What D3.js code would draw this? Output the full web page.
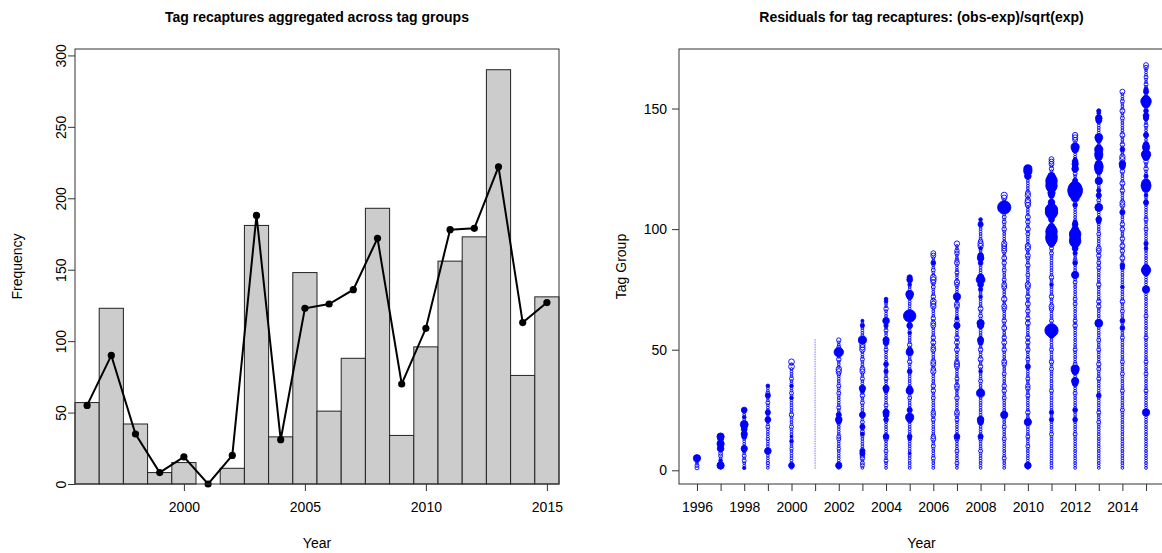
<!DOCTYPE html>
<html><head><meta charset="utf-8">
<script src="https://cdn.jsdelivr.net/npm/d3@7"></script>
<style>
body{margin:0;background:#fff;}
svg{display:block;font-family:"Liberation Sans",Arial,sans-serif;}
</style></head>
<body><svg id="c" width="1162" height="553"></svg>
<script>
// ---------- Left panel data ----------
const years = [1996,1997,1998,1999,2000,2001,2002,2003,2004,2005,2006,2007,2008,2009,2010,2011,2012,2013,2014,2015];
const observed = [57,123,42,8,15,0,11,181,33,148,51,88,193,34,96,156,173,290,76,131];
const expected = [55,90,35,8,19,0,20,188,31,123,126,136,172,70,109,178,179,222,113,127];
const freqTicks = [0,50,100,150,200,250,300];
const yearTicksLeft = [2000,2005,2010,2015];

// ---------- Right panel data ----------
const resYears = years;
const maxTagGroup = [5,14,25,35,45,54,54,62,71,80,90,94,104,114,125,129,139,149,157,168];
const baseResidual = [-0.35,-0.35,-0.35,-0.35,-0.35,-0.05,-0.35,-0.35,-0.35,-0.35,-0.35,-0.35,-0.35,-0.35,-0.35,-0.35,-0.35,-0.35,-0.35,-0.35];
// notable residuals per year: [tag group, residual]
const notable = [
 [[5,2.4],[4,0.6],[2,-0.7],[1,-0.7]],
 [[14,2.4],[13,1.5],[11,2.4],[10,0.8],[9,2.0],[7,-0.7],[6,-0.7],[4,0.6],[2,2.4]],
 [[25,1.5],[22,0.6],[19,2.8],[18,1.5],[17,1.5],[15,1.8],[14,1.2],[9,1.8],[8,0.6],[6,-0.7],[4,-0.7],[1,0.5]],
 [[35,0.6],[32,-0.7],[31,1.2],[28,-0.7],[24,1.2],[21,1.5],[18,-0.7],[13,-0.5],[8,2.0],[3,-0.5]],
 [[45,-1.5],[43,-1.5],[38,-0.7],[35,0.6],[32,-0.7],[30,0.6],[23,-0.9],[18,-0.7],[14,0.4],[12,0.6],[9,-0.5],[2,1.5]],
 [],
 [[54,-0.9],[51,-0.7],[49,4.0],[46,-0.9],[42,-1.3],[41,-1.3],[40,-0.7],[35,-0.7],[32,-0.7],[26,-0.7],[23,1.2],[21,2.0],[20,1.0],[14,-0.7],[13,-0.7],[9,-0.5],[2,1.8]],
 [[62,0.4],[60,0.8],[54,3.0],[52,-1.3],[51,-1.3],[50,-1.3],[46,-0.7],[42,-1.1],[41,-1.1],[38,-0.7],[34,1.8],[33,1.0],[31,-0.9],[28,-0.7],[23,1.6],[20,-0.7],[18,1.2],[16,-0.7],[15,0.8],[8,1.2],[7,1.2],[6,-0.9],[5,-0.9],[3,-0.7],[2,-0.7]],
 [[71,0.6],[70,0.6],[67,-0.9],[62,2.0],[60,0.8],[58,-0.7],[54,1.8],[53,1.5],[50,-0.7],[44,1.0],[41,0.8],[38,-0.7],[34,1.8],[33,1.0],[27,-0.7],[24,1.8],[23,1.5],[21,1.0],[14,1.5],[13,-0.9],[8,-0.7],[4,-0.7]],
 [[80,1.2],[79,1.5],[77,0.6],[73,2.8],[72,1.5],[64,7.0],[60,1.5],[57,0.6],[52,-0.9],[50,1.2],[49,2.4],[45,-0.9],[41,1.0],[34,1.2],[33,2.4],[30,-0.7],[25,1.2],[22,3.0],[21,1.5],[14,1.0],[13,0.6],[7,0.4]],
 [[90,-1.1],[89,-1.1],[86,1.0],[83,-0.7],[80,-1.5],[79,-1.5],[78,-1.1],[76,-0.7],[72,-0.9],[70,-1.5],[69,-1.3],[68,-1.3],[63,-0.9],[61,-1.1],[60,-1.1],[55,-0.9],[53,-1.1],[51,-0.9],[50,-1.1],[45,-1.1],[44,-1.1],[42,-0.9],[41,-1.3],[35,-0.9],[33,-0.9],[30,-0.7],[24,-0.9],[23,-0.9],[21,-0.7],[14,-0.9],[13,-1.1],[10,-0.7],[5,-0.7]],
 [[94,-1.3],[91,-0.9],[90,-0.9],[87,-0.7],[86,-1.1],[82,-0.7],[78,-1.3],[77,-0.9],[72,2.4],[71,0.8],[69,-1.1],[68,-1.1],[63,0.6],[62,-0.9],[60,1.8],[55,-0.9],[53,-1.1],[50,-1.1],[45,-0.9],[44,-1.3],[43,-1.1],[38,-0.7],[35,-1.1],[34,-0.9],[30,-0.9],[24,-1.1],[23,-0.9],[21,-0.7],[14,1.5],[13,-0.9],[8,-0.7],[3,-0.7]],
 [[104,0.6],[102,1.2],[95,-0.9],[94,-1.3],[93,-1.3],[92,0.6],[89,1.5],[88,2.0],[86,1.0],[80,2.0],[79,3.5],[77,1.5],[75,0.8],[72,0.6],[67,-1.1],[64,-0.7],[61,2.4],[60,1.8],[55,0.6],[54,1.8],[53,1.2],[50,-0.9],[46,-1.1],[43,-0.9],[41,0.6],[37,-0.7],[33,-0.9],[32,3.0],[21,2.0],[20,1.5],[14,1.2],[13,-0.7],[8,-0.7]],
 [[114,-1.8],[113,-1.3],[109,8.0],[105,-0.7],[103,-0.7],[100,-0.9],[94,-1.3],[93,-1.1],[92,-1.1],[91,-1.1],[88,-1.1],[86,-0.9],[83,-0.7],[79,-0.7],[77,-1.1],[76,-1.1],[71,-1.3],[68,-1.1],[67,-0.9],[62,-0.9],[59,-1.1],[55,-0.9],[53,-1.1],[50,-0.9],[45,-1.1],[44,-0.9],[40,-0.7],[35,-0.9],[33,-0.9],[30,-0.7],[23,2.4],[22,0.6],[18,-0.7],[13,-0.7],[5,-0.7]],
 [[125,3.0],[124,3.0],[122,2.0],[115,-1.1],[114,-1.3],[112,-1.3],[111,-1.6],[110,-1.3],[105,-1.1],[103,-0.9],[100,-1.1],[98,-0.7],[93,-1.3],[92,-1.3],[89,-1.1],[88,-0.7],[85,-0.9],[81,-0.7],[77,-1.3],[76,-1.1],[72,-0.9],[69,-1.1],[66,-0.9],[63,-0.9],[61,-1.1],[55,-0.9],[53,-0.9],[50,-0.9],[46,-0.7],[43,1.2],[38,-0.7],[35,-0.9],[34,-0.9],[31,-0.7],[24,-0.9],[21,-0.7],[20,2.4],[14,-0.7],[10,-0.7],[2,2.0]],
 [[129,-1.1],[128,-1.1],[127,-1.1],[125,-0.9],[122,2.4],[121,4.0],[120,6.0],[119,5.0],[118,6.0],[117,4.0],[115,2.4],[114,1.5],[111,2.0],[109,3.0],[108,7.0],[107,7.0],[106,4.0],[104,1.5],[101,2.0],[100,4.0],[99,6.0],[98,5.0],[97,6.0],[96,6.0],[95,4.0],[94,2.0],[92,-0.7],[90,-0.7],[80,-0.9],[77,0.6],[72,-0.9],[68,-1.1],[67,-0.9],[62,-0.7],[58,8.0],[56,1.5],[50,-0.7],[45,-0.9],[42,-0.7],[33,-0.7],[24,0.8],[21,0.8],[15,-0.7]],
 [[139,-1.3],[138,-1.3],[137,-1.1],[134,3.0],[133,2.0],[129,0.6],[128,1.5],[127,1.8],[126,1.2],[125,2.0],[123,-0.7],[120,1.2],[118,4.0],[117,8.0],[116,10],[115,8.0],[113,3.0],[110,1.0],[103,0.8],[102,1.5],[100,2.0],[99,3.0],[98,6.0],[97,5.0],[96,5.0],[95,6.0],[94,3.0],[92,1.5],[90,0.8],[87,-0.7],[86,1.0],[81,2.4],[78,-0.7],[71,-0.7],[69,-0.7],[62,-0.7],[60,-0.9],[50,-0.7],[44,-0.7],[42,3.0],[41,2.0],[37,2.4],[36,1.5],[32,-0.7],[25,1.0],[21,1.0],[15,-0.7]],
 [[149,0.8],[148,0.6],[146,2.0],[145,1.5],[138,2.8],[137,1.5],[134,1.2],[133,3.0],[132,2.0],[131,3.0],[130,2.4],[127,2.4],[126,3.5],[125,3.0],[124,2.0],[120,2.4],[116,0.8],[114,1.2],[112,-0.7],[109,2.8],[104,1.5],[103,0.8],[98,-0.7],[92,-1.1],[91,-1.1],[89,-0.9],[86,-0.7],[84,-0.7],[77,-0.9],[70,-0.9],[68,-0.9],[61,2.8],[54,-0.7],[50,-0.7],[44,-0.9],[42,-0.7],[38,-0.7],[31,1.0],[24,-0.7],[20,-0.7]],
 [[157,-1.1],[153,-0.7],[149,-1.1],[146,-0.7],[139,-1.1],[135,-0.9],[133,1.0],[130,-1.3],[129,-1.3],[127,2.0],[126,1.5],[124,-0.9],[119,-1.1],[116,-0.9],[111,-1.1],[110,-1.1],[107,1.2],[102,-0.9],[100,-0.9],[96,-0.9],[93,-1.1],[91,-0.9],[88,-1.1],[85,1.0],[84,0.8],[76,0.6],[70,-0.9],[66,-0.7],[62,1.0],[59,1.0],[55,-0.7],[45,-0.7],[40,-0.7],[33,-0.7],[25,-0.7]],
 [[168,-1.1],[167,-0.9],[163,-0.7],[160,-0.7],[158,0.8],[157,1.2],[154,2.4],[153,5.0],[152,3.0],[149,1.0],[147,1.5],[146,1.2],[143,-0.7],[139,1.2],[135,1.5],[134,2.4],[133,1.5],[131,4.0],[130,2.4],[128,-0.9],[125,-0.9],[122,0.8],[119,3.5],[118,4.5],[117,3.0],[114,0.6],[111,1.2],[104,-0.7],[100,-0.7],[94,0.8],[92,0.6],[84,2.0],[83,4.0],[82,2.0],[75,2.4],[64,-0.7],[55,-0.7],[45,-0.7],[40,-0.7],[33,-0.7],[24,2.4]]
];
const tagTicks = [0,50,100,150];
const yearTicksRight = years;
const yearLabelsRight = [1996,1998,2000,2002,2004,2006,2008,2010,2012,2014];

const svg = d3.select("#c");
const FONT = 14;
const BLUE = "#0000ff";

function styleAxis(a){
  a.selectAll("text").attr("font-size",FONT).attr("font-family","Liberation Sans, Arial, sans-serif").attr("fill","#000");
  a.select(".domain").remove();
  a.selectAll("line").attr("stroke","#333");
}

// ================= LEFT PANEL =================
const L = {x0:75, x1:559, y0:49, y1:484};
const xL = d3.scaleLinear().domain([1995.5, 2015.5]).range([L.x0, L.x1]);
const yL = d3.scaleLinear().domain([0, 304.5]).range([L.y1, L.y0]);

const gL = svg.append("g");
gL.selectAll("rect.bar").data(years).join("rect")
  .attr("x", (d)=>xL(d-0.5)).attr("width", (d)=>xL(d+0.5)-xL(d-0.5))
  .attr("y", (d,i)=>yL(observed[i])).attr("height", (d,i)=>yL(0)-yL(observed[i]))
  .attr("fill","#cccccc").attr("stroke","#222").attr("stroke-width",1);

const line = d3.line().x((d)=>xL(d[0])).y((d)=>yL(d[1]));
gL.append("path").datum(years.map((y,i)=>[y,expected[i]]))
  .attr("d", line).attr("fill","none").attr("stroke","#000").attr("stroke-width",2);
gL.selectAll("circle.pt").data(years).join("circle")
  .attr("cx",(d)=>xL(d)).attr("cy",(d,i)=>yL(expected[i])).attr("r",3.6).attr("fill","#000");

const axBL = gL.append("g").attr("transform",`translate(0,${L.y1})`)
  .call(d3.axisBottom(xL).tickValues(yearTicksLeft).tickFormat(d3.format("d")).tickSize(7).tickPadding(11));
const axLL = gL.append("g").attr("transform",`translate(${L.x0},0)`)
  .call(d3.axisLeft(yL).tickValues(freqTicks).tickSize(7));
styleAxis(axBL); styleAxis(axLL);
axLL.selectAll(".tick text")
  .attr("x",0).attr("y",0).attr("dx",0).attr("dy","0.35em")
  .attr("text-anchor","middle")
  .attr("transform","translate(-14,0) rotate(-90)");

gL.append("rect").attr("x",L.x0).attr("y",L.y0).attr("width",L.x1-L.x0).attr("height",L.y1-L.y0)
  .attr("fill","none").attr("stroke","#333").attr("stroke-width",1);

gL.append("text").attr("x",(L.x0+L.x1)/2).attr("y",22).attr("text-anchor","middle")
  .attr("font-weight","bold").attr("font-size",FONT).text("Tag recaptures aggregated across tag groups");
gL.append("text").attr("x",(L.x0+L.x1)/2).attr("y",548).attr("text-anchor","middle")
  .attr("font-size",FONT).text("Year");
gL.append("text").attr("transform",`translate(22,${(L.y0+L.y1)/2}) rotate(-90)`).attr("text-anchor","middle")
  .attr("font-size",FONT).text("Frequency");

// ================= RIGHT PANEL =================
const R = {x0:679, x1:1164, y0:49, y1:484};
const xR = d3.scaleLinear().domain([1995.24, 2015.76]).range([R.x0, R.x1]);
const yR = d3.scaleLinear().domain([-5.68, 174.68]).range([R.y1, R.y0]);
const rR = d3.scaleSqrt().domain([0, 10]).range([0, 7.4]);

const gR = svg.append("g");
const pts = [];
resYears.forEach((yr,i)=>{
  const m = new Map(notable[i].map(d=>[d[0],d[1]]));
  for(let t=1;t<=maxTagGroup[i];t++){
    const v = m.has(t) ? m.get(t) : baseResidual[i];
    pts.push({yr, t, v, faint: i===5});
  }
});
gR.selectAll("circle.b").data(pts).join("circle")
  .attr("cx",d=>xR(d.yr)).attr("cy",d=>yR(d.t))
  .attr("r",d=>Math.max(0.55, rR(Math.abs(d.v))))
  .attr("fill",d=>d.v>0?BLUE:"none")
  .attr("stroke",BLUE)
  .attr("stroke-width",d=>d.faint?0.6:0.9)
  .attr("stroke-opacity",d=>d.faint?0.45:1);

const axBR = gR.append("g").attr("transform",`translate(0,${R.y1})`)
  .call(d3.axisBottom(xR).tickValues(yearTicksRight)
    .tickFormat(d=>yearLabelsRight.includes(d)?String(d):"").tickSize(7).tickPadding(11));
const axLR = gR.append("g").attr("transform",`translate(${R.x0},0)`)
  .call(d3.axisLeft(yR).tickValues(tagTicks).tickSize(7).tickPadding(5));
styleAxis(axBR); styleAxis(axLR);
gR.append("rect").attr("x",R.x0).attr("y",R.y0).attr("width",R.x1-R.x0).attr("height",R.y1-R.y0)
  .attr("fill","none").attr("stroke","#333").attr("stroke-width",1);

gR.append("text").attr("x",(R.x0+R.x1)/2).attr("y",22).attr("text-anchor","middle")
  .attr("font-weight","bold").attr("font-size",FONT).text("Residuals for tag recaptures: (obs-exp)/sqrt(exp)");
gR.append("text").attr("x",(R.x0+R.x1)/2).attr("y",548).attr("text-anchor","middle")
  .attr("font-size",FONT).text("Year");
gR.append("text").attr("transform",`translate(626,${(R.y0+R.y1)/2}) rotate(-90)`).attr("text-anchor","middle")
  .attr("font-size",FONT).text("Tag Group");
</script></body></html>
